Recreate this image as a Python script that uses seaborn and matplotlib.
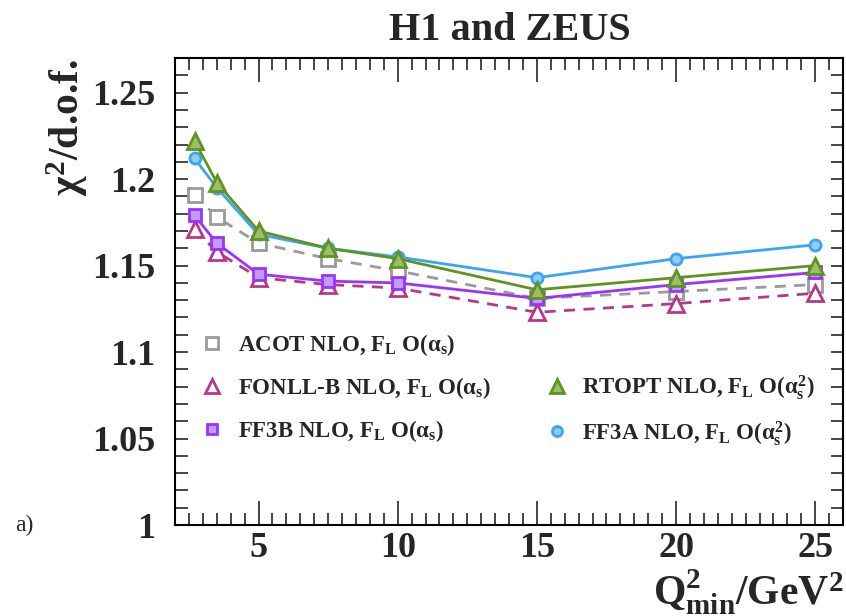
import numpy as np
import pandas as pd
import seaborn as sns
import matplotlib
matplotlib.use("Agg")
import matplotlib.pyplot as plt
from matplotlib.lines import Line2D
from matplotlib.ticker import MultipleLocator

# Minimum Q^2 cut values (GeV^2)
q2_min = [2.7, 3.5, 5.0, 7.5, 10.0, 15.0, 20.0, 25.0]

# chi^2 / d.o.f. for each heavy-flavour scheme
acot_nlo = [1.191, 1.178, 1.163, 1.154, 1.147, 1.131, 1.135, 1.139]
fonll_b_nlo = [1.171, 1.158, 1.143, 1.139, 1.137, 1.123, 1.128, 1.134]
ff3b_nlo = [1.179, 1.163, 1.145, 1.141, 1.140, 1.131, 1.139, 1.146]
ff3a_nlo = [1.212, 1.195, 1.168, 1.160, 1.155, 1.143, 1.154, 1.162]
rtopt_nlo = [1.222, 1.198, 1.170, 1.160, 1.154, 1.136, 1.143, 1.150]

labels = {
    "ACOT": r"ACOT NLO, F$_{\rm L}$ O($\alpha_{\rm s}$)",
    "FONLL": r"FONLL-B NLO, F$_{\rm L}$ O($\alpha_{\rm s}$)",
    "FF3B": r"FF3B NLO, F$_{\rm L}$ O($\alpha_{\rm s}$)",
    "RTOPT": r"RTOPT NLO, F$_{\rm L}$ O($\alpha_{\rm s}^{2}$)",
    "FF3A": r"FF3A NLO, F$_{\rm L}$ O($\alpha_{\rm s}^{2}$)",
}

sns.set_style("ticks")
plt.rcParams["font.family"] = ["Liberation Serif", "DejaVu Serif"]
plt.rcParams["font.weight"] = "bold"
plt.rcParams["mathtext.fontset"] = "custom"
plt.rcParams["mathtext.rm"] = "Liberation Serif:bold"
plt.rcParams["mathtext.it"] = "Liberation Serif:bold"
plt.rcParams["mathtext.bf"] = "Liberation Serif:bold"

fig = plt.figure(figsize=(8.46, 6.16), dpi=100)
ax = fig.add_axes([0.2069, 0.1477, 0.7896, 0.7581])

styles = [
    # key, data, line colour, face colour, marker, size, linestyle
    ("ACOT", acot_nlo, "#9a9a9a", "white", "s", 9.5, (0, (4, 3))),
    ("FONLL", fonll_b_nlo, "#b8378a", "white", "^", 11, (0, (4, 3))),
    ("FF3B", ff3b_nlo, "#9933ff", "#c39cf7", "s", 8.5, "-"),
    ("FF3A", ff3a_nlo, "#3ba4f3", "#8fcdf7", "o", 8, "-"),
    ("RTOPT", rtopt_nlo, "#5f9420", "#9dbd6c", "^", 11.5, "-"),
]

handles = {}
for i, (key, vals, lc, fc, mk, ms, ls) in enumerate(styles):
    df = pd.DataFrame({"q2": q2_min, "chi2": vals})
    sns.lineplot(data=df, x="q2", y="chi2", ax=ax, color=lc, linewidth=2.0,
                 linestyle=ls, marker=mk, markersize=ms,
                 markerfacecolor=fc, markeredgecolor=lc, markeredgewidth=2.0,
                 zorder=3 + i)
    handles[key] = Line2D([], [], linestyle="none", marker=mk,
                          markersize=ms * 0.9, markerfacecolor=fc,
                          markeredgecolor=lc, markeredgewidth=2.0)

blank = Line2D([], [], linestyle="none", marker="none")
order_h = [handles["ACOT"], handles["FONLL"], handles["FF3B"],
           blank, handles["RTOPT"], handles["FF3A"]]
order_l = [labels["ACOT"], labels["FONLL"], labels["FF3B"],
           "", labels["RTOPT"], labels["FF3A"]]
ax.legend(order_h, order_l, ncol=2, frameon=False, loc="upper left",
          bbox_to_anchor=(0.008, 0.458), prop={"size": 16.5, "weight": "bold"},
          handletextpad=0.6, columnspacing=2.4, labelspacing=0.75,
          handlelength=1.0)

ax.set_xlim(2, 26)
ax.set_ylim(1.0, 1.27)
ax.xaxis.set_major_locator(MultipleLocator(5))
ax.xaxis.set_minor_locator(MultipleLocator(0.5))
ax.yaxis.set_major_locator(MultipleLocator(0.05))
ax.yaxis.set_minor_locator(MultipleLocator(0.01))
ax.set_yticks([1.0, 1.05, 1.1, 1.15, 1.2, 1.25])
ax.set_yticklabels(["1", "1.05", "1.1", "1.15", "1.2", "1.25"])

ax.tick_params(axis="both", which="both", direction="in", top=True,
               right=True, width=1.2, labelsize=26)
ax.tick_params(axis="x", which="major", length=17, pad=5)
ax.tick_params(axis="x", which="minor", length=8.5)
ax.tick_params(axis="y", which="major", length=9, pad=14)
ax.tick_params(axis="y", which="minor", length=9)
for lab in ax.get_xticklabels() + ax.get_yticklabels():
    lab.set_fontweight("bold")
for sp in ax.spines.values():
    sp.set_linewidth(1.5)
    sp.set_color("black")

ax.set_xlabel("")
ax.set_ylabel("")
fig.text(0.079, 0.905, r"$\chi^{2}$/d.o.f.", rotation=90, ha="center",
         va="top", fontsize=30, fontweight="bold")
fig.text(0.997, -0.001, r"Q$^{2}_{\rm min}$/GeV$^{2}$", ha="right",
         va="bottom", fontsize=30, fontweight="bold")
fig.text(0.603, 0.951, "H1 and ZEUS", ha="center", va="center",
         fontsize=29, fontweight="bold")
fig.text(0.018, 0.147, "a)", ha="left", va="center", fontsize=17,
         fontweight="normal")

fig.savefig("out.png", dpi=100)
